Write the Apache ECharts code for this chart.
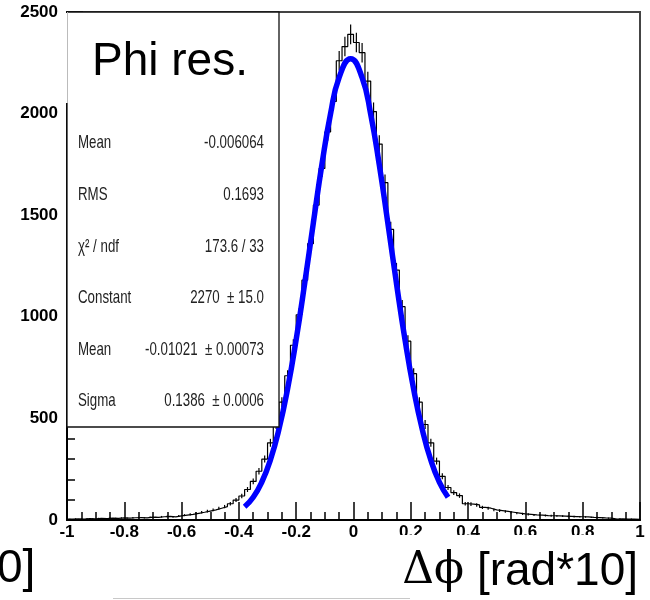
<!DOCTYPE html>
<html lang="en" style="height: 100%">
<head>
  <meta charset="utf-8">
  <script type="text/javascript" src="https://cdn.jsdelivr.net/npm/echarts@6/dist/echarts.min.js"></script>
</head>
<body style="height: 100%; margin: 0; background: #fff">
  <div id="main" style="height: 600px; width: 650px"></div>

  <script type="text/javascript">
    // histogram: 100 bins of 0.02 from -1 to 1, counts
    var binMin = -1;
    var binWidth = 0.02;
    var counts = [
      4, 6, 5, 7, 6, 8, 7, 9, 8, 10,
      9, 11, 12, 10, 14, 13, 16, 18, 15, 20,
      24, 28, 33, 38, 44, 50, 58, 66, 80, 98,
      118, 150, 190, 240, 300, 380, 470, 580, 710, 860,
      1010, 1180, 1360, 1550, 1730, 1910, 2060, 2260, 2330, 2390,
      2350, 2300, 2160, 2010, 1850, 1660, 1430, 1230, 1050, 880,
      720, 580, 470, 380, 290, 215, 160, 135, 120, 80,
      78, 74, 62, 58, 50, 46, 42, 38, 34, 30,
      28, 25, 24, 22, 21, 20, 19, 18, 17, 16,
      15, 13, 12, 10, 9, 5, 6, 4, 5, 3
    ];

    // blue gaussian fit curve
    var fitX = [-0.38, -0.35, -0.32, -0.29, -0.26, -0.23, -0.20, -0.17, -0.14, -0.11, -0.08, -0.05, -0.01,
                0.03, 0.06, 0.09, 0.12, 0.15, 0.18, 0.21, 0.24, 0.27, 0.30, 0.33];
    var fitY = [65, 112, 187, 296, 448, 646, 889, 1168, 1464, 1752, 2000, 2178, 2270,
                2177, 1997, 1748, 1460, 1164, 885, 643, 446, 294, 185, 112];

    // stat box
    var statLabels = ['Mean', 'RMS', 'χ² / ndf', 'Constant', 'Mean', 'Sigma'];
    var statValues = ['-0.006064', '0.1693', '173.6 / 33', '2270  ± 15.0', '-0.01021  ± 0.00073', '0.1386  ± 0.0006'];

    var chart = echarts.init(document.getElementById('main'));

    var histLine = [];
    var errData = [];
    for (var i = 0; i < counts.length; i++) {
      histLine.push([binMin + i * binWidth, counts[i]]);
      errData.push([binMin + (i + 0.5) * binWidth, counts[i], Math.sqrt(counts[i])]);
    }
    histLine.push([binMin + counts.length * binWidth, counts[counts.length - 1]]);

    var fitData = [];
    for (var j = 0; j < fitX.length; j++) {
      fitData.push([fitX[j], fitY[j]]);
    }

    var sans = "'Liberation Sans', Arial, sans-serif";
    var statFont = "19px " + sans;

    var graphics = [
      // stat box
      { type: 'rect', z: 100, shape: { x: 67, y: 12, width: 212, height: 415 },
        style: { fill: '#fff', stroke: '#111', lineWidth: 1.3 } },
      // white patch under the title
      { type: 'rect', z: 101, shape: { x: 64, y: 13, width: 214, height: 90 },
        style: { fill: '#fff' } },
      { type: 'line', z: 102, shape: { x1: 67.5, y1: 12, x2: 67.5, y2: 103 },
        style: { stroke: '#bbb', lineWidth: 1 } },
      { type: 'text', z: 103, style: { text: 'Phi res.', x: 92, y: 62, textVerticalAlign: 'middle',
        font: "46px " + sans, fill: '#000' } },
      // white patch covering the lower x labels
      { type: 'rect', z: 100, shape: { x: 385, y: 535, width: 248, height: 65 },
        style: { fill: '#fff' } },
      { type: 'text', z: 103, style: { text: '0]', x: -3, y: 569, textVerticalAlign: 'middle',
        font: "46px " + sans, fill: '#000' } },
      { type: 'text', z: 103, style: {
          text: '{a|Δϕ}{b| [rad*10]}', x: 638, y: 572, textAlign: 'right', textVerticalAlign: 'middle',
          rich: {
            a: { font: "44px 'DejaVu Serif', serif", fill: '#000' },
            b: { font: "46px " + sans, fill: '#000' }
          } } },
      { type: 'line', z: 100, shape: { x1: 113, y1: 598.5, x2: 410, y2: 598.5 },
        style: { stroke: '#c8c8c8', lineWidth: 1 } }
    ];
    var rowY = [143, 195, 247, 298, 350, 401];
    for (var k = 0; k < statLabels.length; k++) {
      graphics.push({ type: 'text', z: 103, x: 78, y: rowY[k], scaleX: 0.7,
        style: { text: statLabels[k], x: 0, y: 0, textVerticalAlign: 'middle', font: statFont, fill: '#222' } });
      graphics.push({ type: 'text', z: 103, x: 264, y: rowY[k], scaleX: 0.7,
        style: { text: statValues[k], x: 0, y: 0, textAlign: 'right', textVerticalAlign: 'middle', font: statFont, fill: '#222' } });
    }

    var labelStyle = { color: '#000', fontFamily: 'Liberation Sans', fontWeight: 'bold', fontSize: 17 };

    var option = {
      animation: false,
      grid: { left: 67, right: 10, top: 12, bottom: 80, show: true, borderColor: '#444', borderWidth: 2 },
      xAxis: {
        type: 'value', min: -1, max: 1, interval: 0.2,
        axisLine: { onZero: false, lineStyle: { color: '#000', width: 2 } },
        axisTick: { inside: true, length: 18, lineStyle: { color: '#000', width: 1.5 } },
        minorTick: { show: true, splitNumber: 4, length: 8, lineStyle: { color: '#000', width: 1.5 } },
        splitLine: { show: false },
        axisLabel: Object.assign({ margin: 4, showMinLabel: true, showMaxLabel: true,
          formatter: function (v) { return String(Math.round(v * 10) / 10); } }, labelStyle)
      },
      yAxis: {
        type: 'value', min: 0, max: 2500, interval: 500,
        axisLine: { show: true, onZero: false, lineStyle: { color: '#000', width: 2 } },
        axisTick: { show: true, inside: true, length: 16, lineStyle: { color: '#000', width: 1.5 } },
        minorTick: { show: true, splitNumber: 5, length: 8, lineStyle: { color: '#000', width: 1.5 } },
        splitLine: { show: false },
        axisLabel: Object.assign({ margin: 9, formatter: function (v) { return String(v); } }, labelStyle)
      },
      series: [
        {
          type: 'line', step: 'end', data: histLine, symbol: 'none',
          lineStyle: { color: '#000', width: 1.2 }, z: 3
        },
        {
          type: 'custom', data: errData, z: 3,
          renderItem: function (params, api) {
            var x = api.value(0), v = api.value(1), e = api.value(2);
            var p1 = api.coord([x, v - e]);
            var p2 = api.coord([x, v + e]);
            return { type: 'line', shape: { x1: p1[0], y1: p1[1], x2: p2[0], y2: p2[1] },
              style: { stroke: '#000', lineWidth: 1.2 } };
          }
        },
        {
          type: 'line', data: fitData, smooth: true, symbol: 'none',
          lineStyle: { color: '#0000ff', width: 5.5 }, z: 4
        }
      ],
      graphic: graphics
    };

    chart.setOption(option);
  </script>
</body>
</html>
